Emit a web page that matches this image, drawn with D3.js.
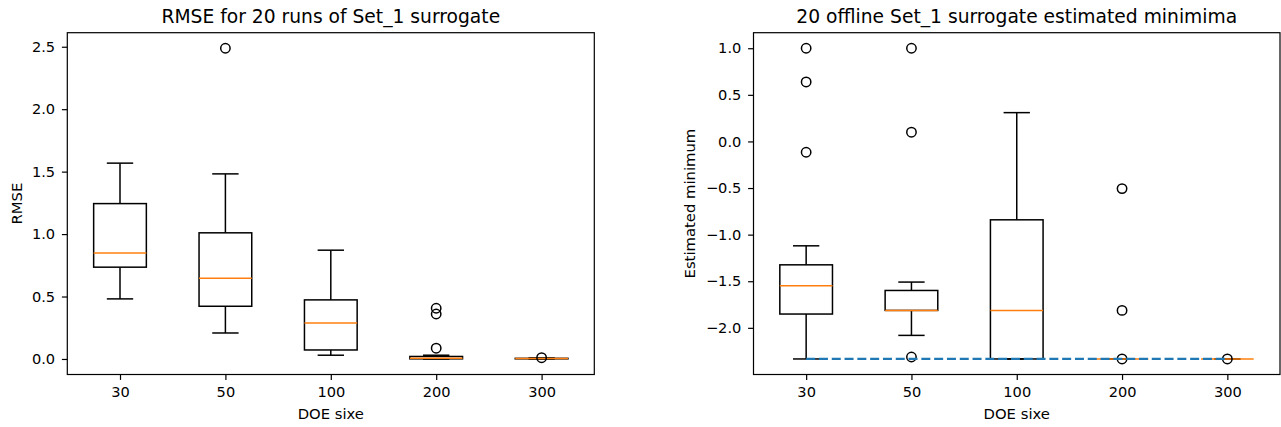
<!DOCTYPE html>
<html>
<head>
<meta charset="utf-8">
<script src="https://cdn.jsdelivr.net/npm/d3@7"></script>
<style>
  html, body { margin: 0; padding: 0; background: #fff; }
  svg { display: block; font-family: "DejaVu Sans", sans-serif; }
</style>
</head>
<body>
<svg id="fig" width="1281" height="427"></svg>
<script>
// DOE sizes shared by both panels
const doeSizes = ["30", "50", "100", "200", "300"];

// RMSE box statistics per DOE size
const rmseWhiskerLow  = [0.481, 0.208, 0.030, 0.000, 0.000];
const rmseQ1          = [0.735, 0.422, 0.072, 0.001, 0.001];
const rmseMedian      = [0.849, 0.647, 0.288, 0.006, 0.003];
const rmseQ3          = [1.244, 1.010, 0.473, 0.020, 0.005];
const rmseWhiskerHigh = [1.568, 1.482, 0.871, 0.030, 0.008];
const rmseOutliers    = [[], [2.488], [], [0.406, 0.360, 0.086], [0.010]];
const rmseTicks       = [0.0, 0.5, 1.0, 1.5, 2.0, 2.5];

// Estimated minimum box statistics per DOE size
const minWhiskerLow  = [-2.334, -2.081, -2.334, -2.334, -2.334];
const minQ1          = [-1.852, -1.813, -2.334, -2.334, -2.334];
const minMedian      = [-1.549, -1.813, -1.813, -2.334, -2.334];
const minQ3          = [-1.324, -1.599, -0.841, -2.334, -2.334];
const minWhiskerHigh = [-1.120, -1.509, 0.309, -2.334, -2.334];
const minOutliers    = [[1.0, 0.638, -0.116], [1.0, 0.099, -2.313], [], [-0.506, -1.813, -2.334], [-2.334]];
const minTicks       = [-2.0, -1.5, -1.0, -0.5, 0.0, 0.5, 1.0];
const trueMinimum    = -2.334;

const svg = d3.select("#fig");
const axTop = 32.7, axBottom = 374.5;
const black = "#000", orange = "#ff7f0e", blue = "#1f77b4";
const tickFont = "14.6px", labelFont = "14.8px", titleFont = "18.7px";

function buildStats(lo, q1, med, q3, hi, out) {
  return doeSizes.map((s, i) => ({
    pos: i + 1, lo: lo[i], q1: q1[i], med: med[i], q3: q3[i], hi: hi[i], out: out[i]
  }));
}

function panel(opts) {
  const g = svg.append("g");
  const x = d3.scaleLinear().domain([0.5, 5.5]).range([opts.left, opts.right]);
  // y limits padded by 5% of the data span
  const all = opts.stats.flatMap(d => [d.lo, d.hi, ...d.out]);
  const [mn, mx] = d3.extent(all);
  const pad = (mx - mn) * 0.05;
  const y = d3.scaleLinear().domain([mn - pad, mx + pad]).range([axBottom, axTop]);

  const boxW = (x(1.25) - x(0.75));
  const capW = (x(1.125) - x(0.875));

  const boxes = g.append("g");
  opts.stats.forEach(d => {
    const cx = x(d.pos);
    const bg = boxes.append("g").attr("fill", "none").attr("stroke-width", 1.5);
    // whiskers
    bg.append("line").attr("x1", cx).attr("x2", cx).attr("y1", y(d.q1)).attr("y2", y(d.lo)).attr("stroke", black);
    bg.append("line").attr("x1", cx).attr("x2", cx).attr("y1", y(d.q3)).attr("y2", y(d.hi)).attr("stroke", black);
    // caps
    bg.append("line").attr("x1", cx - capW / 2).attr("x2", cx + capW / 2).attr("y1", y(d.lo)).attr("y2", y(d.lo)).attr("stroke", black);
    bg.append("line").attr("x1", cx - capW / 2).attr("x2", cx + capW / 2).attr("y1", y(d.hi)).attr("y2", y(d.hi)).attr("stroke", black);
    // box
    bg.append("rect").attr("x", cx - boxW / 2).attr("width", boxW)
      .attr("y", y(d.q3)).attr("height", Math.max(0, y(d.q1) - y(d.q3))).attr("stroke", black);
    // median
    bg.append("line").attr("x1", cx - boxW / 2).attr("x2", cx + boxW / 2).attr("y1", y(d.med)).attr("y2", y(d.med)).attr("stroke", orange);
    // outliers
    bg.selectAll("circle").data(d.out).join("circle")
      .attr("cx", cx).attr("cy", v => y(v)).attr("r", 4.7).attr("stroke", black);
  });

  if (opts.refLine !== undefined) {
    const line = d3.line().x(p => x(p)).y(() => y(opts.refLine));
    g.append("path").datum([1, 2, 3, 4, 5]).attr("d", line)
      .attr("fill", "none").attr("stroke", blue).attr("stroke-width", 2.25)
      .attr("stroke-dasharray", "9,3.8");
  }

  // frame
  g.append("rect").attr("x", opts.left).attr("y", axTop)
    .attr("width", opts.right - opts.left).attr("height", axBottom - axTop)
    .attr("fill", "none").attr("stroke", black).attr("stroke-width", 1.2);

  const xAxis = d3.axisBottom(x).tickValues([1, 2, 3, 4, 5])
    .tickFormat(i => doeSizes[i - 1]).tickSizeOuter(0).tickSize(5.4).tickPadding(6.8);
  const gx = g.append("g").attr("transform", `translate(0,${axBottom})`).call(xAxis);
  const yAxis = d3.axisLeft(y).tickValues(opts.ticks).tickFormat(d3.format(".1f"))
    .tickSizeOuter(0).tickSize(5.4).tickPadding(6.8);
  const gy = g.append("g").attr("transform", `translate(${opts.left},0)`).call(yAxis);
  [gx, gy].forEach(a => {
    a.select(".domain").remove();
    a.selectAll(".tick line").attr("stroke", black).attr("stroke-width", 1.2);
    a.selectAll(".tick text").attr("fill", black).style("font-size", tickFont)
      .style("font-family", "DejaVu Sans");
  });

  const cx = (opts.left + opts.right) / 2;
  g.append("text").attr("x", cx).attr("y", 23.2).attr("text-anchor", "middle")
    .style("font-size", titleFont).text(opts.title);
  g.append("text").attr("x", cx).attr("y", 419).attr("text-anchor", "middle")
    .style("font-size", labelFont).text("DOE sixe");
  g.append("text").attr("transform", `translate(${opts.ylabelX},${(axTop + axBottom) / 2}) rotate(-90)`)
    .attr("text-anchor", "middle").style("font-size", labelFont).text(opts.ylabel);
}

panel({
  left: 67.3, right: 594.3,
  stats: buildStats(rmseWhiskerLow, rmseQ1, rmseMedian, rmseQ3, rmseWhiskerHigh, rmseOutliers),
  ticks: rmseTicks,
  title: "RMSE for 20 runs of Set_1 surrogate",
  ylabel: "RMSE", ylabelX: 21.7
});

panel({
  left: 753.5, right: 1280,
  stats: buildStats(minWhiskerLow, minQ1, minMedian, minQ3, minWhiskerHigh, minOutliers),
  ticks: minTicks,
  title: "20 offline Set_1 surrogate estimated minimima",
  ylabel: "Estimated minimum", ylabelX: 694.5,
  refLine: trueMinimum
});
</script>
</body>
</html>
